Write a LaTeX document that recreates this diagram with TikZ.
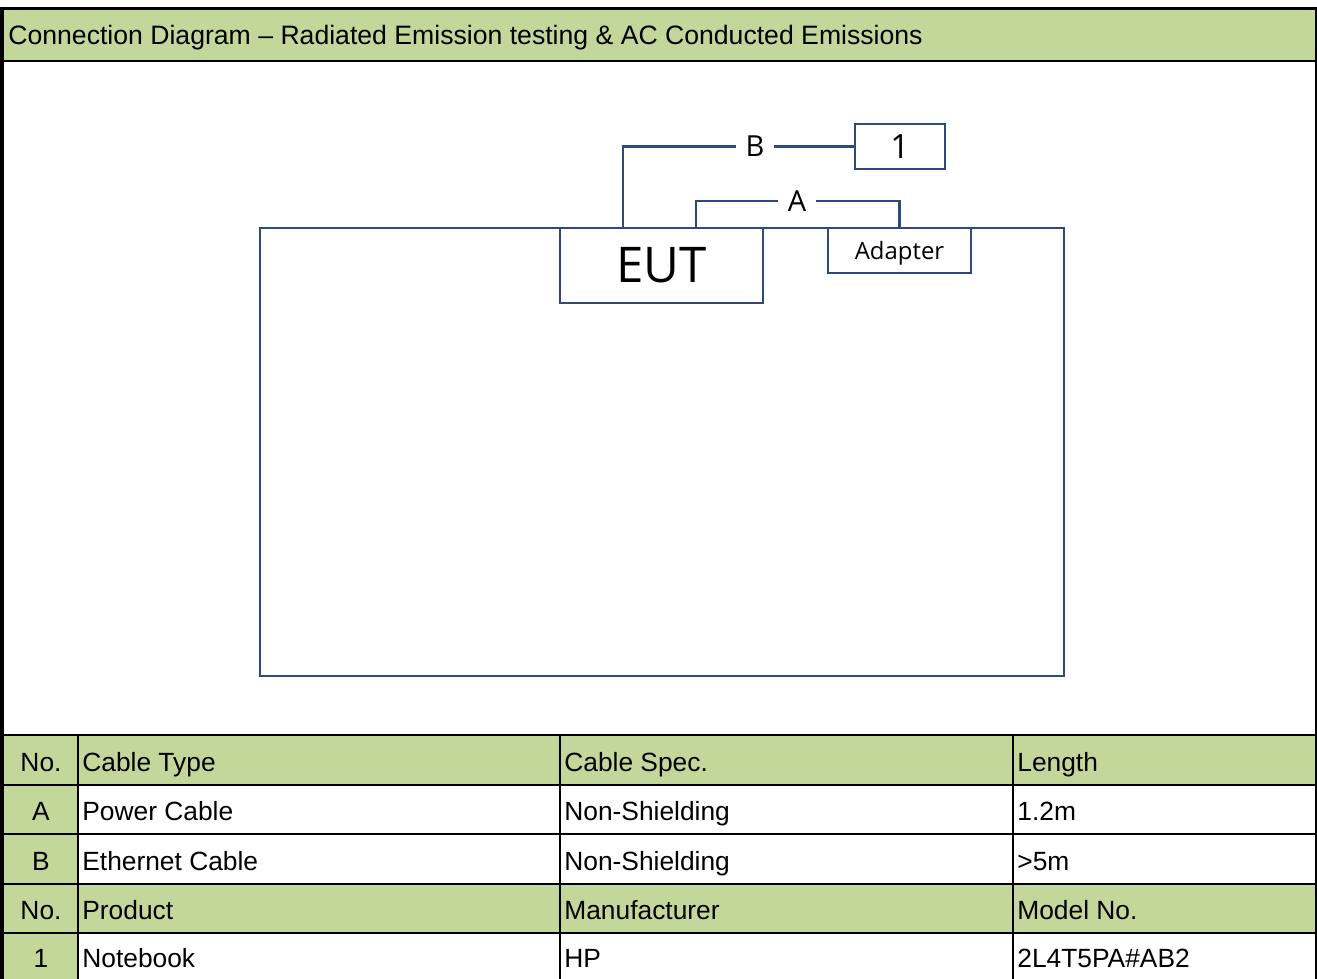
\documentclass[tikz,border=0pt]{standalone}
\usepackage{fontspec}
\setmainfont{Liberation Sans}
\newfontfamily\diagfont{Open Sans}
\definecolor{hdrgreen}{HTML}{C4D79B}
\definecolor{cableblue}{HTML}{2F487D}
\begin{document}
\begin{tikzpicture}[x=0.02cm,y=-0.02cm,
  gridline/.style={black,line width=1.2pt},
  cable/.style={draw=cableblue,line width=1.2pt},
  devbox/.style={draw=cableblue,line width=1.2pt,fill=white,inner sep=0pt,font=\diagfont},
  cablelbl/.style={inner xsep=5.5pt,inner ysep=1pt,font=\diagfont\fontsize{16.5}{18}\selectfont},
  celltxt/.style={anchor=base west,inner sep=0pt,font=\fontsize{15}{18}\selectfont},
  numtxt/.style={anchor=base,inner sep=0pt,font=\fontsize{15}{18}\selectfont}]
\fill[white] (0,0) rectangle (1317,979);
\useasboundingbox (0,0) rectangle (1317,979);
% title row
\fill[hdrgreen] (4,10) rectangle (1315,60);
\node[celltxt,font=\fontsize{15.15}{18}\selectfont] (title) at (8,45) {Connection Diagram – Radiated Emission testing \& AC Conducted Emissions};
% table fills
\fill[hdrgreen] (4,735) rectangle (1315,784);
\fill[hdrgreen] (4,884) rectangle (1315,933);
\fill[hdrgreen] (4,784) rectangle (78,979);
% grid lines
\foreach \yy in {735,785,834,884,933} \draw[gridline] (0,\yy) -- (1317,\yy);
\foreach \xx in {78,560,1013} \draw[gridline] (\xx,735) -- (\xx,979);
\draw[black,line width=1.7pt] (0,8.5) -- (1317,8.5);
\draw[black,line width=1.2pt] (0,61) -- (1317,61);
\draw[black,line width=2.3pt] (2,7) -- (2,979);
\draw[black,line width=1.2pt] (1316,7) -- (1316,979);
% table text
\node[numtxt] (h1a) at (41,771) {No.};
\node[celltxt] (h1b) at (82,771) {Cable Type};
\node[celltxt] (h1c) at (564,771) {Cable Spec.};
\node[celltxt] (h1d) at (1017,771) {Length};
\node[numtxt] (raa) at (41,820) {A};
\node[celltxt] (rab) at (82,820) {Power Cable};
\node[celltxt] (rac) at (564,820) {Non-Shielding};
\node[celltxt] (rad) at (1017,820) {1.2m};
\node[numtxt] (rba) at (41,870) {B};
\node[celltxt] (rbb) at (82,870) {Ethernet Cable};
\node[celltxt] (rbc) at (564,870) {Non-Shielding};
\node[celltxt] (rbd) at (1017,870) {>5m};
\node[numtxt] (h2a) at (41,919) {No.};
\node[celltxt] (h2b) at (82,919) {Product};
\node[celltxt] (h2c) at (564,919) {Manufacturer};
\node[celltxt] (h2d) at (1017,919) {Model No.};
\node[numtxt] (r1a) at (41,967) {1};
\node[celltxt] (r1b) at (82,967) {Notebook};
\node[celltxt] (r1c) at (564,967) {HP};
\node[celltxt] (r1d) at (1017,967) {2L4T5PA\#AB2};
% diagram
\node[draw=cableblue,line width=1.2pt,minimum width=16.08cm,minimum height=8.96cm,inner sep=0pt] (bench) at (662,452) {};
\node[devbox,minimum width=4.06cm,minimum height=1.5cm,font=\diagfont\fontsize{28}{30}\selectfont] (eut) at (661.5,265.5) {EUT};
\node[devbox,minimum width=2.86cm,minimum height=0.9cm,text depth=0pt,font=\diagfont\fontsize{13.6}{15}\selectfont] (adapter) at (899.5,250.5) {Adapter};
\node[devbox,minimum width=1.8cm,minimum height=0.9cm,font=\diagfont\fontsize{19}{21}\selectfont] (one) at (900,146.5) {1};
\node[cablelbl] (lblB) at (755,146.5) {B};
\node[cablelbl] (lblA) at (797,201) {A};
\draw[cable] (eut.north west) ++(64,0) |- (lblB);
\draw[cable] (lblB) -- (one.west);
\draw[cable] (eut.north west) ++(137,0) |- (lblA);
\draw[cable] (lblA) -| (adapter.north);
\end{tikzpicture}
\end{document}
